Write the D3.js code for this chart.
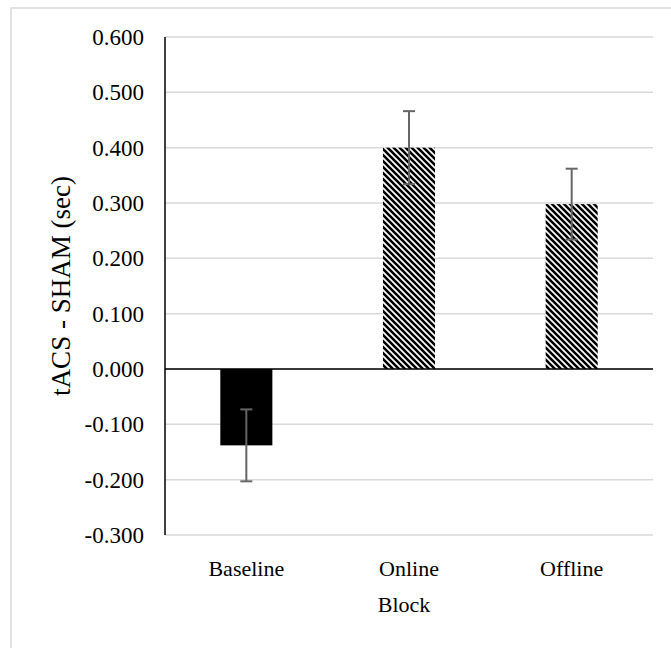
<!DOCTYPE html>
<html>

<head>
	<meta charset="utf-8">
	<script src="https://cdn.jsdelivr.net/npm/d3@7"></script>
</head>

<style>
	body {
		margin: 0;
		background: #fff;
	}

	text {
		font-family: "Liberation Serif", "Times New Roman", serif;
		fill: #000;
	}
</style>

<body>
	<svg width="671" height="648"></svg>

	<script>
		// chart data
		var blocks = ['Baseline', 'Online', 'Offline'];
		var diffs = [-0.138, 0.400, 0.298];
		var errors = [0.065, 0.066, 0.064];
		var patterned = [false, true, true];
		var yTicks = [-0.3, -0.2, -0.1, 0, 0.1, 0.2, 0.3, 0.4, 0.5, 0.6];

		var svg = d3.select('svg');

		// hatch pattern for the tACS blocks
		var pat = svg.append('defs')
			.append('pattern')
			.attr('id', 'hatch')
			.attr('patternUnits', 'userSpaceOnUse')
			.attr('width', 6)
			.attr('height', 6);
		pat.append('rect').attr('width', 6).attr('height', 6).attr('fill', '#fff');
		pat.append('path')
			.attr('d', 'M-1,-1L7,7M-1,5L1,7M5,-1L7,1')
			.attr('stroke', '#000')
			.attr('stroke-width', 2.6);

		// outer chart border
		svg.append('rect')
			.attr('x', 11)
			.attr('y', 8)
			.attr('width', 680)
			.attr('height', 660)
			.attr('fill', 'none')
			.attr('stroke', '#d9d9d9')
			.attr('stroke-width', 1.5);

		var plotLeft = 165, plotRight = 653, plotTop = 37, plotBottom = 535;

		var y = d3.scaleLinear()
			.domain([-0.3, 0.6])
			.range([plotBottom, plotTop]);

		var x = d3.scaleBand()
			.domain(blocks)
			.range([plotLeft, plotRight])
			.paddingInner(0.68)
			.paddingOuter(0.34);

		// gridlines
		svg.append('g')
			.selectAll('line')
			.data(yTicks)
			.enter()
			.append('line')
			.attr('x1', plotLeft)
			.attr('x2', plotRight)
			.attr('y1', function(d) { return y(d); })
			.attr('y2', function(d) { return y(d); })
			.attr('stroke', '#d9d9d9')
			.attr('stroke-width', 1.5);

		// y axis labels (plain hyphen for negatives, like the original)
		var fmt = d3.format('.3f');
		var yAxis = d3.axisLeft(y)
			.tickValues(yTicks)
			.tickFormat(function(d) { return fmt(d).replace('\u2212', '-'); })
			.tickSize(0)
			.tickPadding(21);
		var ya = svg.append('g')
			.attr('transform', 'translate(' + plotLeft + ',0)')
			.call(yAxis);
		ya.select('.domain').remove();
		ya.selectAll('text')
			.attr('font-size', 23)
			.attr('font-family', '"Liberation Serif", serif')
			.attr('fill', '#000');

		// bars
		svg.append('g')
			.selectAll('rect')
			.data(blocks)
			.enter()
			.append('rect')
			.attr('x', function(d) { return x(d); })
			.attr('width', x.bandwidth())
			.attr('y', function(d, i) { return y(Math.max(0, diffs[i])); })
			.attr('height', function(d, i) { return Math.abs(y(diffs[i]) - y(0)); })
			.attr('fill', function(d, i) { return patterned[i] ? 'url(#hatch)' : '#000'; });

		// vertical axis line and zero line
		svg.append('line')
			.attr('x1', plotLeft).attr('x2', plotLeft)
			.attr('y1', plotTop).attr('y2', plotBottom)
			.attr('stroke', '#000')
			.attr('stroke-width', 1.5);
		svg.append('line')
			.attr('x1', plotLeft).attr('x2', plotRight)
			.attr('y1', y(0)).attr('y2', y(0))
			.attr('stroke', '#000')
			.attr('stroke-width', 1.5);

		// error bars
		var eb = svg.append('g')
			.selectAll('g')
			.data(blocks)
			.enter()
			.append('g')
			.attr('stroke', '#666')
			.attr('stroke-width', 2);
		eb.append('line')
			.attr('x1', function(d) { return x(d) + x.bandwidth() / 2; })
			.attr('x2', function(d) { return x(d) + x.bandwidth() / 2; })
			.attr('y1', function(d, i) { return y(diffs[i] + errors[i]); })
			.attr('y2', function(d, i) { return y(diffs[i] - errors[i]); });
		eb.selectAll('.cap')
			.data(function(d, i) {
				return [diffs[i] + errors[i], diffs[i] - errors[i]].map(function(v) { return { b: d, v: v }; });
			})
			.enter()
			.append('line')
			.attr('x1', function(d) { return x(d.b) + x.bandwidth() / 2 - 6; })
			.attr('x2', function(d) { return x(d.b) + x.bandwidth() / 2 + 6; })
			.attr('y1', function(d) { return y(d.v); })
			.attr('y2', function(d) { return y(d.v); });

		// category labels
		svg.append('g')
			.selectAll('text')
			.data(blocks)
			.enter()
			.append('text')
			.attr('x', function(d) { return x(d) + x.bandwidth() / 2; })
			.attr('y', 576)
			.attr('text-anchor', 'middle')
			.attr('font-size', 22)
			.text(function(d) { return d; });

		// axis titles
		svg.append('text')
			.attr('x', 404)
			.attr('y', 612)
			.attr('text-anchor', 'middle')
			.attr('font-size', 22)
			.text('Block');

		svg.append('text')
			.attr('transform', 'translate(70,' + (plotTop + plotBottom) / 2 + ') rotate(-90)')
			.attr('text-anchor', 'middle')
			.attr('font-size', 27)
			.text('tACS - SHAM (sec)');
	</script>
</body>

</html>
